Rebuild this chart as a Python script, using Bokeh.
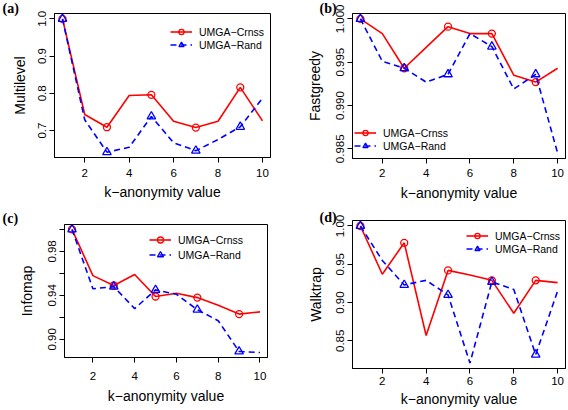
from bokeh.plotting import figure
from bokeh.models import Range1d, FixedTicker, Legend, LegendItem
from bokeh.layouts import column, row
from bokeh.embed import file_html
from bokeh.resources import INLINE

k = [1, 2, 3, 4, 5, 6, 7, 8, 9, 10]
x_ticks = [2, 4, 6, 8, 10]

a_crnss = [1.000, 0.743, 0.709, 0.794, 0.796, 0.725, 0.708, 0.725, 0.816, 0.726]
a_rand = [1.000, 0.729, 0.642, 0.655, 0.738, 0.667, 0.646, 0.676, 0.710, 0.787]
b_crnss = [1.0000, 0.9983, 0.9943, 0.9967, 0.9991, 0.9983, 0.9983, 0.9935, 0.9927, 0.9943]
b_rand = [1.0000, 0.9951, 0.9943, 0.9927, 0.9936, 0.9983, 0.9968, 0.9919, 0.9936, 0.9845]
c_crnss = [1.000, 0.958, 0.949, 0.959, 0.939, 0.942, 0.938, 0.931, 0.923, 0.925]
c_rand = [1.000, 0.946, 0.948, 0.928, 0.945, 0.941, 0.927, 0.917, 0.889, 0.888]
d_crnss = [1.000, 0.937, 0.978, 0.857, 0.942, 0.936, 0.929, 0.886, 0.929, 0.926]
d_rand = [1.000, 0.955, 0.923, 0.929, 0.910, 0.821, 0.927, 0.917, 0.832, 0.915]

a_yticks = [0.7, 0.8, 0.9, 1.0]
a_ylabels = ["0.7", "0.8", "0.9", "1.0"]
b_yticks = [0.985, 0.990, 0.995, 1.000]
b_ylabels = ["0.985", "0.990", "0.995", "1.000"]
c_yticks = [0.90, 0.92, 0.94, 0.96, 0.98, 1.00]
c_ylabels = ["0.90", "", "0.94", "", "0.98", ""]
d_yticks = [0.85, 0.90, 0.95, 1.00]
d_ylabels = ["0.85", "0.90", "0.95", "1.00"]

names = ["UMGA\u2212Crnss", "UMGA\u2212Rand"]
ylabels = ["Multilevel", "Fastgreedy", "Infomap", "Walktrap"]
panel_tags = ["(a)", "(b)", "(c)", "(d)"]
xlabel = "k\u2212anonymity value"

FONT = "Liberation Sans"


def make_panel(crnss, rand, yticks, ylabs, ylab, tag, geom, leg_loc, leg_h,
               tick_standoff, label_standoff, ylabel_standoff, tag_offset, tag_standoff):
    width, height, bl, br, bt, bb = geom
    lo = min(crnss + rand)
    hi = max(crnss + rand)
    pad = 0.04 * (hi - lo)
    p = figure(width=width, height=height, output_backend="svg",
               toolbar_location=None,
               x_range=Range1d(0.64, 10.36), y_range=Range1d(lo - pad, hi + pad),
               min_border_left=bl, min_border_right=br,
               min_border_top=bt, min_border_bottom=bb)
    p.grid.visible = False
    p.outline_line_color = "black"
    p.outline_line_width = 1
    p.background_fill_color = "white"
    p.border_fill_color = "white"

    # panel tag as a left-aligned title pushed into the left margin
    p.title.text = tag
    p.title.align = "left"
    p.title.offset = tag_offset
    p.title.standoff = tag_standoff
    p.title.text_font = "Liberation Serif"
    p.title.text_font_style = "bold"
    p.title.text_font_size = "14px"
    p.title.text_color = "black"

    for ax in (p.xaxis[0], p.yaxis[0]):
        ax.axis_line_color = "black"
        ax.major_tick_line_color = "black"
        ax.major_tick_out = 5
        ax.major_tick_in = 0
        ax.minor_tick_line_color = None
        ax.major_label_text_font = FONT
        ax.major_label_text_font_size = "11.5px"
        ax.major_label_text_color = "black"
        ax.axis_label_text_font = FONT
        ax.axis_label_text_font_size = "14px"
        ax.axis_label_text_font_style = "normal"
        ax.axis_label_text_color = "black"

    p.xaxis.ticker = FixedTicker(ticks=x_ticks)
    p.xaxis.major_label_standoff = tick_standoff
    p.xaxis.axis_label = xlabel
    p.xaxis.axis_label_standoff = label_standoff

    p.yaxis.ticker = FixedTicker(ticks=yticks)
    p.yaxis.major_label_overrides = {t: s for t, s in zip(yticks, ylabs)}
    p.yaxis.major_label_orientation = "parallel"
    p.yaxis.major_label_standoff = 3
    p.yaxis.axis_label = ylab
    p.yaxis.axis_label_standoff = ylabel_standoff

    l1 = p.line(k, crnss, line_color="#ff0000", line_width=1.6)
    s1 = p.scatter(k[::2], crnss[::2], marker="circle", size=7,
                   line_color="#ff0000", fill_color=None, line_width=1.3)
    l2 = p.line(k, rand, line_color="#0000ff", line_width=1.6, line_dash="6 4")
    s2 = p.scatter(k[::2], rand[::2], marker="triangle", size=8.5,
                   line_color="#0000ff", fill_color=None, line_width=1.3)

    legend = Legend(items=[LegendItem(label=names[0], renderers=[l1, s1]),
                           LegendItem(label=names[1], renderers=[l2, s2])],
                    location=leg_loc)
    legend.background_fill_alpha = 0
    legend.border_line_color = None
    legend.padding = 0
    legend.margin = 0
    legend.spacing = 0
    legend.glyph_width = 22
    legend.glyph_height = leg_h
    legend.label_height = leg_h
    legend.label_standoff = 7
    legend.label_text_font = FONT
    legend.label_text_font_size = "10.5px"
    legend.label_text_color = "black"
    legend.label_text_baseline = "middle"
    p.add_layout(legend)
    return p


pa = make_panel(a_crnss, a_rand, a_yticks, a_ylabels, ylabels[0], panel_tags[0],
                (284, 205, 54, 14, 13, 48), (116, 106), 13, 6, 4, 8, -52, -4)
pb = make_panel(b_crnss, b_rand, b_yticks, b_ylabels, ylabels[1], panel_tags[1],
                (284, 205, 68, 3, 12, 47), (2, 6), 13, 5, 5, 11, -33, -4)
pc = make_panel(c_crnss, c_rand, c_yticks, c_ylabels, ylabels[2], panel_tags[2],
                (284, 205, 64, 17, 19, 53), (85, 95), 15, 9, 5, 11, -62, -3)
pd = make_panel(d_crnss, d_rand, d_yticks, d_ylabels, ylabels[3], panel_tags[3],
                (284, 205, 68, 3, 15, 42), (114, 113), 13, 3, 3, 10, -33, -9)

# each plot wrapped on its own so that frames in a row are not forced to align
layout = column(row(column(pa), column(pb)), row(column(pc), column(pd)))

open("out.html", "w").write(file_html(layout, INLINE))
